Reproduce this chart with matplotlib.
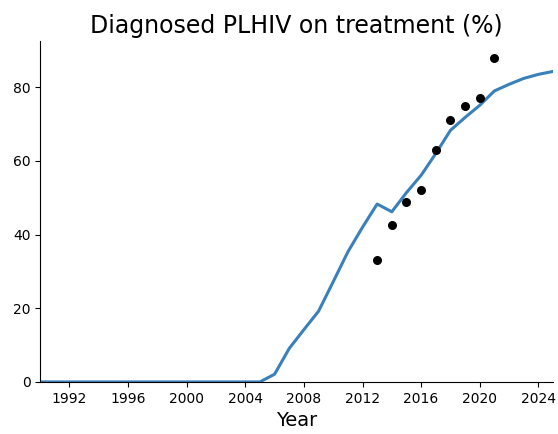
import numpy as np
import matplotlib.pyplot as plt

# model estimate (line)
years = list(range(1990, 2026))
on_treatment = [0]*15 + [0, 2.1, 9.1, 14.2, 19.2, 27.2, 35.3, 42.0, 48.3, 46.2,
                         51.4, 56.1, 62.0, 68.3, 71.8, 75.1, 79.0, 80.8, 82.4, 83.5, 84.3]

# reported data (dots)
obs_years = [2013, 2014, 2015, 2016, 2017, 2018, 2019, 2020, 2021]
obs_values = [33.0, 42.5, 48.9, 52.1, 63.1, 71.2, 75.0, 77.1, 88.0]

fig = plt.figure(figsize=(5.58, 4.34), dpi=100)
ax = fig.add_axes([0.072, 0.12, 0.919, 0.785])

ax.plot(years, on_treatment, color='#3a80ba', lw=2.2)
ax.scatter(obs_years, obs_values, color='black', s=30, zorder=3)

ax.set_xlim(1990, 2025)
ax.set_ylim(0, 92.5)
ax.set_xticks(range(1992, 2025, 4))
ax.set_yticks([0, 20, 40, 60, 80])
ax.tick_params(labelsize=10)
ax.spines['top'].set_visible(False)
ax.spines['right'].set_visible(False)

ax.set_title('Diagnosed PLHIV on treatment (%)', fontsize=17)
ax.set_xlabel('Year', fontsize=14)

fig.savefig('out.png', dpi=100)
